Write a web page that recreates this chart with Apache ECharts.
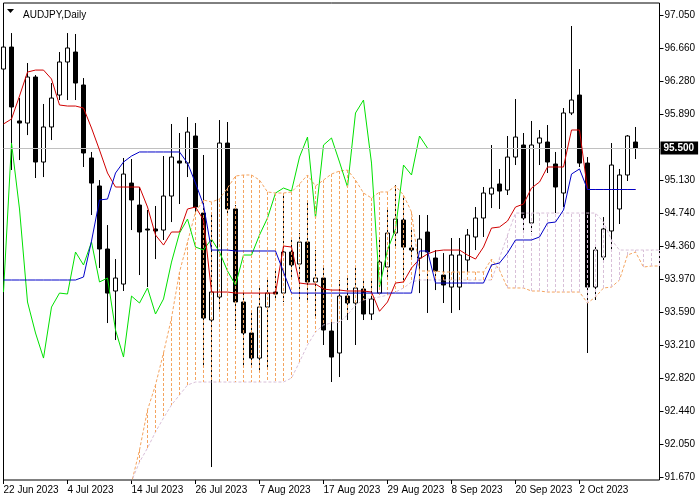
<!DOCTYPE html>
<html><head><meta charset="utf-8">
<script src="https://cdn.jsdelivr.net/npm/echarts@6/dist/echarts.min.js"></script>
<style>html,body{margin:0;padding:0;background:#fff}#c{width:700px;height:500px}</style>
</head><body><div id="c"></div><script>
const dates = ['22 Jun 2023','23 Jun 2023','26 Jun 2023','27 Jun 2023','28 Jun 2023','29 Jun 2023','30 Jun 2023',
'3 Jul 2023','4 Jul 2023','5 Jul 2023','6 Jul 2023','7 Jul 2023','10 Jul 2023','11 Jul 2023','12 Jul 2023','13 Jul 2023','14 Jul 2023','17 Jul 2023','18 Jul 2023','19 Jul 2023','20 Jul 2023','21 Jul 2023','24 Jul 2023','25 Jul 2023','26 Jul 2023','27 Jul 2023','28 Jul 2023','31 Jul 2023',
'1 Aug 2023','2 Aug 2023','3 Aug 2023','4 Aug 2023','7 Aug 2023','8 Aug 2023','9 Aug 2023','10 Aug 2023','11 Aug 2023','14 Aug 2023','15 Aug 2023','16 Aug 2023','17 Aug 2023','18 Aug 2023','21 Aug 2023','22 Aug 2023','23 Aug 2023','24 Aug 2023','25 Aug 2023','28 Aug 2023','29 Aug 2023','30 Aug 2023','31 Aug 2023',
'1 Sep 2023','4 Sep 2023','5 Sep 2023','6 Sep 2023','7 Sep 2023','8 Sep 2023','11 Sep 2023','12 Sep 2023','13 Sep 2023','14 Sep 2023','15 Sep 2023','18 Sep 2023','19 Sep 2023','20 Sep 2023','21 Sep 2023','22 Sep 2023','25 Sep 2023','26 Sep 2023','27 Sep 2023','28 Sep 2023','29 Sep 2023',
'2 Oct 2023','3 Oct 2023','4 Oct 2023','5 Oct 2023','6 Oct 2023','9 Oct 2023','10 Oct 2023','11 Oct 2023','12 Oct 2023','13 Oct 2023','16 Oct 2023'];

const open = [96.421,96.677,95.816,95.792,96.328,95.338,95.746,96.118,96.503,96.619,
96.235,95.385,95.059,94.325,93.836,93.917,95.093,94.837,94.558,94.558,
94.546,94.942,95.350,95.326,95.641,94.744,93.498,93.766,95.559,94.791,
93.708,93.347,93.055,93.649,93.824,93.812,94.290,94.150,94.406,93.941,
93.987,93.370,93.114,93.777,93.696,93.859,93.568,93.812,94.115,94.511,
94.663,94.336,94.220,94.523,94.220,94.022,93.882,93.882,94.197,94.465,
94.686,94.965,95.082,95.012,95.396,95.536,94.628,95.559,95.571,95.315,
94.977,95.909,96.118,95.326,93.882,94.232,94.535,94.791,95.187,95.571];
const close = [96.677,95.979,95.792,96.328,95.338,95.746,96.083,96.503,96.666,96.258,
95.443,95.093,94.325,93.812,93.987,95.198,94.896,94.523,94.546,94.535,
94.942,95.396,95.326,95.687,94.814,93.521,93.824,95.559,94.791,93.708,
93.347,93.055,93.649,93.812,93.801,94.290,94.139,94.406,93.941,93.987,
93.382,93.067,93.777,93.696,93.871,93.568,93.743,94.173,94.511,94.674,
94.348,94.313,94.441,94.290,94.069,93.906,94.255,94.255,94.488,94.686,
94.977,95.035,95.000,95.396,95.629,94.686,95.536,95.618,95.338,95.047,
95.909,96.060,95.326,93.882,94.313,94.558,95.303,95.187,95.641,95.500];
const low = [96.409,95.245,95.361,95.652,95.152,95.163,95.594,96.060,96.060,96.060,
95.280,94.721,94.104,93.463,93.265,93.836,94.546,94.022,93.882,94.208,
94.430,94.639,94.849,95.163,94.721,92.951,91.786,93.614,94.721,93.382,
92.974,92.951,92.916,92.951,93.731,93.708,93.964,93.731,93.731,93.533,
93.207,92.776,92.834,93.498,93.207,93.498,93.498,93.789,93.999,94.336,
93.964,94.197,93.812,93.580,93.847,93.696,93.580,93.614,94.057,94.313,
94.465,94.802,94.791,94.954,95.303,94.511,94.523,95.303,95.210,94.744,
94.814,95.885,95.280,93.114,93.731,94.173,94.325,94.616,95.117,95.373];
const high = [96.782,96.840,96.083,96.491,96.351,96.014,96.258,96.619,96.840,96.829,
96.316,95.455,95.128,94.604,94.208,95.385,95.373,95.047,94.779,94.826,
95.408,95.781,95.676,95.862,95.792,95.420,94.721,95.827,95.804,94.837,
93.847,93.580,93.882,93.964,94.080,94.977,94.465,94.511,94.861,94.313,
94.139,93.498,93.964,94.022,94.115,93.964,93.964,94.465,94.814,95.070,
94.954,94.546,94.721,94.721,94.313,94.278,94.453,94.453,94.558,94.814,
95.047,95.536,95.257,95.641,96.072,95.676,95.816,95.711,95.769,95.455,
95.967,96.922,96.421,95.396,94.371,94.697,95.559,95.257,95.652,95.746];

const tenkan = [95.781,95.839,96.107,96.386,96.409,96.409,96.305,96.002,95.990,95.990,
95.967,95.734,95.478,95.210,95.047,95.047,95.047,95.047,94.814,94.488,
94.371,94.523,94.523,94.791,94.814,94.663,93.824,93.824,93.824,93.812,
93.812,93.812,93.812,93.812,93.812,94.360,94.348,93.929,93.917,93.917,
93.859,93.847,93.847,93.836,93.836,93.836,93.824,93.600,93.708,93.929,
93.941,94.104,94.208,94.267,94.302,94.313,94.313,94.313,94.255,94.208,
94.348,94.569,94.581,94.651,94.814,94.849,95.035,95.105,95.280,95.280,
95.280,95.711,95.711,95.018,95.018,95.018,95.018,95.018,95.018,95.018];
const kijun = [93.964,93.964,93.964,93.964,93.964,93.964,93.964,93.964,93.964,93.964,
93.999,94.418,94.896,94.907,95.210,95.338,95.408,95.455,95.455,95.455,
95.455,95.455,95.455,95.326,95.093,94.837,94.313,94.313,94.313,94.302,
94.302,94.302,94.302,94.302,94.302,94.057,93.812,93.812,93.812,93.812,
93.812,93.812,93.812,93.812,93.812,93.812,93.812,93.812,93.812,93.812,
93.812,93.812,94.302,94.302,93.929,93.929,93.929,93.929,93.929,93.929,
93.929,94.139,94.162,94.278,94.430,94.430,94.430,94.465,94.628,94.639,
94.779,95.198,95.257,95.018,95.018,95.018,95.018,95.018,95.018,95.018];
const chikou = [93.824,95.559,94.791,93.708,93.347,93.055,93.649,93.812,93.801,94.290,
94.139,94.406,93.941,93.987,93.382,93.067,93.777,93.696,93.871,93.568,
93.743,94.173,94.511,94.674,94.348,94.313,94.441,94.290,94.069,93.906,
94.255,94.255,94.488,94.686,94.977,95.035,95.000,95.396,95.629,94.686,
95.536,95.618,95.338,95.047,95.909,96.060,95.326,93.882,94.313,94.558,
95.303,95.187,95.641,95.500];
const spanA = [null,null,null,null,null,null,null,null,null,null,
null,null,null,null,null,91.250,91.600,91.984,92.450,92.741,
93.114,93.521,94.057,94.406,94.756,94.896,94.872,94.907,95.035,95.175,
95.187,95.187,95.128,94.989,94.977,94.977,94.989,95.082,95.187,95.059,
95.128,95.198,95.233,95.245,95.128,94.977,94.919,94.989,94.989,95.059,
94.954,94.756,94.069,94.069,94.069,94.057,94.057,94.057,94.057,94.057,
94.057,94.208,94.080,93.871,93.871,93.871,93.836,93.836,93.824,93.824,
93.824,93.824,93.824,93.696,93.766,93.871,93.882,93.964,94.255,94.290,
94.115,94.127,94.127];
const spanB = [null,null,null,null,null,null,null,null,null,null,
null,null,null,null,null,91.450,91.620,91.844,92.007,92.194,
92.357,92.508,92.625,92.741,92.776,92.776,92.776,92.776,92.776,92.776,
92.776,92.776,92.776,92.776,92.776,92.776,92.822,93.009,93.207,93.358,
93.440,93.463,93.475,93.556,93.673,93.731,93.754,93.766,93.789,93.824,
93.871,93.941,93.964,93.964,93.964,93.964,93.964,93.964,93.964,93.964,
93.964,93.964,94.220,94.488,94.744,94.744,94.744,94.744,94.744,94.744,
94.744,94.744,94.744,94.744,94.744,94.639,94.430,94.313,94.313,94.313,
94.313,94.313,94.313];
const yTicks = [91.67,92.05,92.44,92.82,93.21,93.59,93.97,94.36,94.74,95.13,95.89,96.28,96.66,97.05];
const lastPrice = 95.50;
const title = 'AUDJPY,Daily';

const FONT = 'Liberation Sans';
const Y_MIN = 91.635, Y_MAX = 97.19;
const UP_CLOUD = '#F4A460', DOWN_CLOUD = '#D8BFD8';
const candles = open.map((o, i) => [o, close[i], low[i], high[i]]);
const hatch = [];
spanA.forEach((a, i) => {
  const b = spanB[i];
  if (a == null || b == null) return;
  if (Math.max(a, b) <= Y_MIN) return;
  hatch.push([
    {coord: [i, Math.max(a, Y_MIN)], lineStyle: {color: a >= b ? UP_CLOUD : DOWN_CLOUD, width: 1, type: [3, 2]}},
    {coord: [i, Math.max(b, Y_MIN)]}
  ]);
});
const showIdx = (idx) => idx % 8 === 0 && idx <= 72;

const chart = echarts.init(document.getElementById('c'));
chart.setOption({
  animation: false,
  backgroundColor: '#ffffff',
  title: {text: title, left: 18, top: 5, textStyle: {fontSize: 10, fontWeight: 'normal', color: '#000', fontFamily: FONT}},
  graphic: [{type: 'polygon', shape: {points: [[7, 9], [14, 9], [10.5, 13]]}, style: {fill: '#000'}}],
  grid: {left: 3.5, right: 40.5, top: 3, bottom: 20, show: true, borderColor: '#000', borderWidth: 1, backgroundColor: 'transparent'},
  xAxis: {
    type: 'category', data: dates, boundaryGap: false,
    axisLine: {show: false},
    axisTick: {show: true, interval: showIdx, length: 4, lineStyle: {color: '#000'}},
    axisLabel: {interval: showIdx, align: 'left', margin: 5, fontSize: 10, color: '#000', fontFamily: FONT},
    splitLine: {show: false}
  },
  yAxis: {
    type: 'value', position: 'right', min: Y_MIN, max: Y_MAX,
    axisLine: {show: false},
    axisTick: {show: true, customValues: yTicks, length: 4, lineStyle: {color: '#000'}},
    axisLabel: {customValues: yTicks, formatter: v => v.toFixed(3), margin: 5, fontSize: 10, color: '#000', fontFamily: FONT},
    splitLine: {show: false}
  },
  series: [
    {
      type: 'candlestick', data: candles, barWidth: 5, z: 2,
      itemStyle: {color: '#ffffff', color0: '#000000', borderColor: '#000000', borderColor0: '#000000', borderWidth: 1},
      markLine: {
        symbol: 'none', silent: true,
        data: [{yAxis: lastPrice}],
        lineStyle: {color: '#c0c0c0', type: 'solid', width: 1},
        label: {show: true, position: 'end', distance: 1, formatter: lastPrice.toFixed(3), color: '#fff', backgroundColor: '#000', padding: [2, 4, 1, 3], fontSize: 10, fontWeight: 'bold', fontFamily: FONT}
      }
    },
    {type: 'line', data: spanA, z: 3, symbol: 'none', connectNulls: false, lineStyle: {color: UP_CLOUD, width: 1, type: [3, 2]}},
    {type: 'line', data: spanB, z: 3, symbol: 'none', connectNulls: false, lineStyle: {color: DOWN_CLOUD, width: 1, type: [3, 2]}},
    {type: 'line', data: chikou, z: 4, symbol: 'none', lineStyle: {color: '#00e000', width: 1}},
    {type: 'line', data: tenkan, z: 5, symbol: 'none', lineStyle: {color: '#d00000', width: 1}},
    {type: 'line', data: kijun, z: 6, symbol: 'none', lineStyle: {color: '#0000c8', width: 1}},
    {
      type: 'line', data: [], zlevel: 1, symbol: 'none',
      markLine: {symbol: ['none', 'none'], silent: true, label: {show: false}, emphasis: {disabled: true}, data: hatch}
    }
  ]
});
</script></body></html>
